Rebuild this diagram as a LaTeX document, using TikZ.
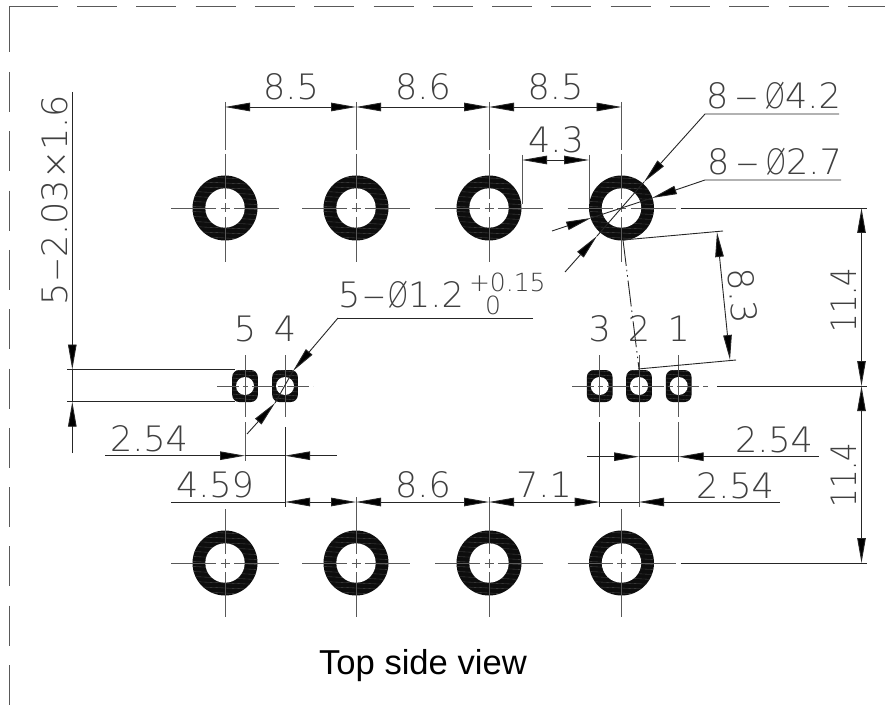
\documentclass[tikz,border=0pt]{standalone}
\usepackage{fontspec}
\setmainfont{Liberation Sans}
\newfontfamily\cadfont{DejaVu Sans ExtraLight}
\usetikzlibrary{arrows.meta}
\newcommand{\dsh}[1][2pt]{\kern#1\scalebox{2}[1]{-}\kern#1}
\newcommand{\phisym}{\scalebox{0.75}[1]{Ø}}
\tikzset{
  lin/.style={line width=0.9pt,black!85},
  gl/.style={line width=0.9pt,black!65},
  dim/.style={lin,{Triangle[length=25pt,width=8.5pt,fill=black]}-{Triangle[length=25pt,width=8.5pt,fill=black]}},
  tipe/.style={lin,-{Triangle[length=25pt,width=8.5pt,fill=black]}},
  tips/.style={lin,{Triangle[length=25pt,width=8.5pt,fill=black]}-},
  cad/.style={inner sep=0pt,outer sep=0pt,font=\cadfont\fontsize{35}{35}\selectfont,text=black!75},
  cadsmall/.style={inner sep=0pt,outer sep=0pt,font=\cadfont\fontsize{25}{25}\selectfont,text=black!75},
  hat/.style={line width=0.35pt,black!70}
}
\newcommand{\bighole}[2]{%
  \fill[black!95] (#1,#2) circle[radius=32.5];
  \begin{scope}
    \clip (#1,#2) circle[radius=32.5];
    \foreach \d in {-30,-25,...,30}{\draw[hat] (#1-33,#2+\d-1.5)--(#1+33,#2+\d+1.5);}
  \end{scope}
  \fill[white] (#1,#2) circle[radius=19.7];
  \draw[gl] (#1-54,#2)--(#1-9,#2) (#1-4.5,#2)--(#1+4.5,#2) (#1+9,#2)--(#1+54,#2);
  \draw[gl] (#1,#2-54)--(#1,#2-9) (#1,#2-4.5)--(#1,#2+4.5) (#1,#2+9)--(#1,#2+54);
}
\newcommand{\pad}[2]{%
  \fill[black!95,rounded corners=7pt] (#1-12.8,#2-16) rectangle (#1+12.8,#2+16);
  \begin{scope}
    \clip[rounded corners=7pt] (#1-12.8,#2-16) rectangle (#1+12.8,#2+16);
    \foreach \d in {-15,-11,...,15}{\draw[hat] (#1-13,#2+\d-1)--(#1+13,#2+\d+1);}
  \end{scope}
  \fill[white] (#1,#2) circle[radius=9];
  \draw[gl] (#1,#2-31)--(#1,#2+31);
}
\begin{document}
\begin{tikzpicture}[x=1pt,y=-1pt]
\useasboundingbox (0,0) rectangle (885,711);
\fill[white] (0,0) rectangle (885,711);
% frame
\draw[gl] (9,52)--(9,6)--(58,6);
\draw[gl,dash pattern=on 40pt off 19.3pt] (9,72)--(9,711);
\draw[gl,dash pattern=on 40pt off 19.3pt] (77,6)--(885,6);
% holes
\foreach \x in {225,356,489,621.5}{\bighole{\x}{208}\bighole{\x}{563}}
\foreach \x in {245,285,599.7,639,678.7}{\pad{\x}{386}}
\draw[gl,dash pattern=on 22pt off 4pt on 5pt off 4pt] (217,386)--(313,386);
\draw[gl,dash pattern=on 22pt off 4pt on 5pt off 4pt] (572,386)--(708,386);
% top dims
\foreach \x in {225,356,489,621.5}{\draw[gl] (\x,102)--(\x,150);}
\draw[dim] (225,107)--(356,107);
\draw[dim] (356,107)--(489,107);
\draw[dim] (489,107)--(621.5,107);
\node[cad,anchor=base] at (291,100) {8.5};
\node[cad,anchor=base] at (423,100) {8.6};
\node[cad,anchor=base] at (555.5,100) {8.5};
% 4.3
\draw[gl] (522,155)--(522,204);
\draw[gl] (589,155)--(589,204);
\draw[dim] (522,160)--(589,160);
\node[cad,anchor=base] at (556,153) {4.3};
% 8-phi4.2
\draw[tipe] (839,114)--(705,114)--(644,182);
\draw[lin] (644,182)--(597,236);
\draw[tips] (597,236)--(565,272);
\node[cad,anchor=base west] at (706,109) {8\dsh[5.5pt]\phisym 4.2};
% 8-phi2.7
\draw[tipe] (841,180)--(705,180)--(652,198);
\draw[lin] (652,198)--(591,218);
\draw[tips] (591,218)--(552,231);
\node[cad,anchor=base west] at (707,175) {8\dsh[5.5pt]\phisym 2.7};
% 8.3
\draw[lin] (623,240)--(723,231);
\draw[lin] (638,369)--(736,360);
\draw[dim] (717,232)--(730,360);
\draw[lin,dash pattern=on 26pt off 4pt on 1.5pt off 4pt on 1.5pt off 4pt] (623,240)--(639,369);
\node[cad,rotate=-84.5] at (743,296) {8.3};
% 11.4
\draw[lin] (680.5,208)--(867,208);
\draw[lin] (717,386)--(867,386);
\draw[lin] (680.5,563)--(867,563);
\draw[dim] (861.5,208)--(861.5,386);
\draw[dim] (861.5,386)--(861.5,563);
\node[cad,rotate=90,anchor=base] at (856,300) {\scalebox{0.83}[1]{11.4}};
\node[cad,rotate=90,anchor=base] at (856,475) {\scalebox{0.83}[1]{11.4}};
% left 5-2.03x1.6
\draw[lin] (67,369.5)--(235,369.5);
\draw[lin] (67,401.7)--(235,401.7);
\draw[tipe] (72.3,92)--(72.3,369.5);
\draw[tipe] (72.3,453)--(72.3,401.7);
\draw[lin] (72.3,369.5)--(72.3,401.7);
\node[cad,rotate=90,anchor=base] at (67,200) {5\dsh[0pt]2.03×1.6};
% 5-phi1.2
\draw[lin] (533,318)--(338,318);
\draw[tipe] (338,318)--(293,371);
\draw[lin] (293,371)--(275,403);
\draw[tips] (275,403)--(247,434);
\node[cad,anchor=base west] at (338,307) {5\dsh[1pt]\phisym 1.2};
\node[cadsmall,anchor=base west] at (469,291) {+0.15};
\node[cadsmall,anchor=base] at (493,314) {0};
% pad numbers
\node[cad,anchor=base] at (245,341) {5};
\node[cad,anchor=base] at (285,341) {4};
\node[cad,anchor=base] at (599.7,341) {3};
\node[cad,anchor=base] at (639,341) {2};
\node[cad,anchor=base] at (678.7,341) {1};
% lower dims
\draw[gl] (245,422)--(245,461);
\draw[lin] (285,427)--(285,507);
\draw[lin] (599.7,422)--(599.7,507);
\draw[gl] (639,422)--(639,507);
\draw[gl] (678.7,422)--(678.7,462);
\draw[gl] (356,497)--(356,509);
\draw[gl] (489,497)--(489,509);
\draw[tipe] (105,455.7)--(245,455.7);
\draw[lin] (245,455.7)--(285,455.7);
\draw[tips] (285,455.7)--(337,455.7);
\node[cad,anchor=base] at (149,451.5) {2.54};
\draw[lin] (171,502)--(285,502);
\node[cad,anchor=base] at (215,497) {4.59};
\draw[dim] (285,502)--(356,502);
\draw[dim] (356,502)--(489,502);
\draw[dim] (489,502)--(599.7,502);
\node[cad,anchor=base] at (423,497) {8.6};
\node[cad,anchor=base] at (544,497) {7.1};
\draw[lin] (599.7,502)--(639,502);
\draw[tips] (639,502)--(780,502);
\node[cad,anchor=base] at (735,498) {2.54};
\draw[tipe] (587,456.7)--(639,456.7);
\draw[lin] (639,456.7)--(678.7,456.7);
\draw[tips] (678.7,456.7)--(819,456.7);
\node[cad,anchor=base] at (774,452.5) {2.54};
\node[inner sep=0pt,font=\fontsize{34.6}{36}\selectfont,anchor=base] at (423,674) {Top side view};
\end{tikzpicture}
\end{document}
